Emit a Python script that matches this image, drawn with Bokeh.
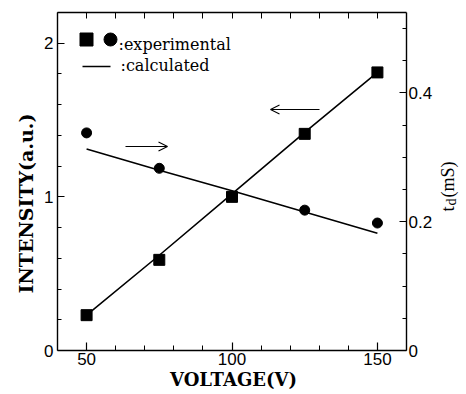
import math
from bokeh.plotting import figure
from bokeh.models import Range1d, LinearAxis, FixedTicker, Label, Arrow, OpenHead
from bokeh.embed import file_html
from bokeh.resources import INLINE

# ---- data ----
voltage = [50, 75, 100, 125, 150]
intensity_exp = [0.23, 0.59, 1.00, 1.41, 1.81]
intensity_calc = [0.23, 0.62, 1.02, 1.42, 1.81]
td_voltage = [50, 75, 125, 150]
td_exp = [0.338, 0.283, 0.218, 0.198]
td_calc = [0.313, 0.280, 0.248, 0.215, 0.182]

x_major = [50, 100, 150]
x_minor = [60, 70, 80, 90, 110, 120, 130, 140]
y_major = [0, 1, 2]
y_minor = [0.2, 0.4, 0.6, 0.8, 1.2, 1.4, 1.6, 1.8, 2.2]
td_major = [0, 0.2, 0.4]
td_minor = [0.05, 0.1, 0.15, 0.25, 0.3, 0.35, 0.45, 0.5]

# visible box limits (data) and its place on the canvas (pixels)
X0, X1 = 40, 160
Y0, Y1 = 0, 2.2
T0, T1 = 0, 0.525
W, H = 466, 394
BOX_L, BOX_R, BOX_T, BOX_B = 57, 406, 12, 350

sx = (BOX_R - BOX_L) / (X1 - X0)
sy = (BOX_B - BOX_T) / (Y1 - Y0)
st = (BOX_B - BOX_T) / (T1 - T0)

# the frame covers the whole canvas; axes sit at fixed locations on the box edges
xr = Range1d(X0 - BOX_L / sx, X1 + (W - BOX_R) / sx)
yr = Range1d(Y0 - (H - BOX_B) / sy, Y1 + BOX_T / sy)
tr = Range1d(T0 - (H - BOX_B) / st, T1 + BOX_T / st)


def px2x(px):
    return X0 + (px - BOX_L) / sx


def py2y(py):
    return Y0 + (BOX_B - py) / sy


p = figure(width=W, height=H, x_range=xr, y_range=yr,
           output_backend="svg", toolbar_location=None,
           min_border_left=0, min_border_right=0, min_border_top=0, min_border_bottom=0,
           x_axis_location=None, y_axis_location=None)
p.title.visible = False
p.extra_y_ranges = {"td": tr}
p.xgrid.visible = False
p.ygrid.visible = False
p.outline_line_color = None
p.background_fill_color = "white"
p.border_fill_color = "white"

TICK_FONT = "Liberation Sans"
TITLE_FONT = "DejaVu Serif"
RT_FONT = "Liberation Serif"
LEG_FONT = "DejaVu Serif"


def style_axis(ax, major_len, minor_len):
    ax.axis_line_color = "black"
    ax.axis_line_width = 1.4
    ax.major_tick_in = major_len
    ax.major_tick_out = 0
    ax.minor_tick_in = minor_len
    ax.minor_tick_out = 0
    ax.major_tick_line_color = "black"
    ax.minor_tick_line_color = "black"
    ax.major_tick_line_width = 1.2
    ax.minor_tick_line_width = 1.0
    ax.major_label_text_font = TICK_FONT
    ax.major_label_text_font_size = "17px"
    ax.major_label_text_color = "black"


bottom = LinearAxis(ticker=FixedTicker(ticks=x_major, minor_ticks=x_minor),
                    fixed_location=Y0, bounds=(X0, X1))
style_axis(bottom, 8, 5)
bottom.major_label_standoff = 2
p.add_layout(bottom, "below")

top = LinearAxis(ticker=FixedTicker(ticks=[], minor_ticks=x_major + x_minor),
                 fixed_location=Y1, bounds=(X0, X1))
style_axis(top, 6, 6)
p.add_layout(top, "above")

left = LinearAxis(ticker=FixedTicker(ticks=y_major, minor_ticks=y_minor),
                  fixed_location=X0, bounds=(Y0, Y1))
style_axis(left, 7, 4)
left.major_label_standoff = 4
p.add_layout(left, "left")

right = LinearAxis(y_range_name="td", ticker=FixedTicker(ticks=td_major, minor_ticks=td_minor),
                   fixed_location=X1, bounds=(T0, T1))
style_axis(right, 7, 4)
right.major_label_standoff = 2
p.add_layout(right, "right")

# ---- data marks ----
p.line(voltage, intensity_calc, line_color="black", line_width=1.6)
p.line(voltage, td_calc, line_color="black", line_width=1.6, y_range_name="td")
p.scatter(voltage, intensity_exp, marker="square", size=11, fill_color="black", line_color="black")
p.scatter(td_voltage, td_exp, marker="circle", size=10, fill_color="black", line_color="black",
          y_range_name="td")

# ---- arrows ----
p.add_layout(Arrow(end=OpenHead(size=9, line_width=1.1, line_color="black"),
                   x_start=px2x(125), y_start=py2y(146), x_end=px2x(167), y_end=py2y(146),
                   line_width=1.1, line_color="black"))
p.add_layout(Arrow(end=OpenHead(size=9, line_width=1.1, line_color="black"),
                   x_start=px2x(319), y_start=py2y(109), x_end=px2x(270), y_end=py2y(109),
                   line_width=1.1, line_color="black"))


def label(px, py, text, font, size, bold=False, angle=0.0, align="left"):
    return Label(x=px2x(px), y=py2y(py), text=text, text_font=font,
                 text_font_style="bold" if bold else "normal", text_font_size=size,
                 text_align=align, text_baseline="alphabetic", angle=angle, text_color="black")


# ---- legend ----
p.scatter([px2x(86)], [py2y(39)], marker="square", size=13, fill_color="black", line_color="black")
p.scatter([px2x(110)], [py2y(39)], marker="circle", size=13, fill_color="black", line_color="black")
p.add_layout(label(118, 44, ":experimental", LEG_FONT, "16px"))
p.add_layout(Arrow(end=None, x_start=px2x(82), y_start=py2y(66), x_end=px2x(110), y_end=py2y(66),
                   line_width=1.6, line_color="black"))
p.add_layout(label(120, 65, ":calculated", LEG_FONT, "16px"))

# ---- axis titles ----
p.add_layout(label(233, 379, "VOLTAGE(V)", TITLE_FONT, "18px", bold=True, align="center"))
p.add_layout(label(25, 203, "INTENSITY(a.u.)", TITLE_FONT, "19px", bold=True,
                   angle=math.pi / 2, align="center"))
p.add_layout(label(447, 211, "t", RT_FONT, "19px", angle=math.pi / 2))
p.add_layout(label(451, 205, "d", RT_FONT, "14px", angle=math.pi / 2))
p.add_layout(label(447, 197, "(mS)", RT_FONT, "18px", angle=math.pi / 2))

open("out.html", "w").write(file_html(p, INLINE))
